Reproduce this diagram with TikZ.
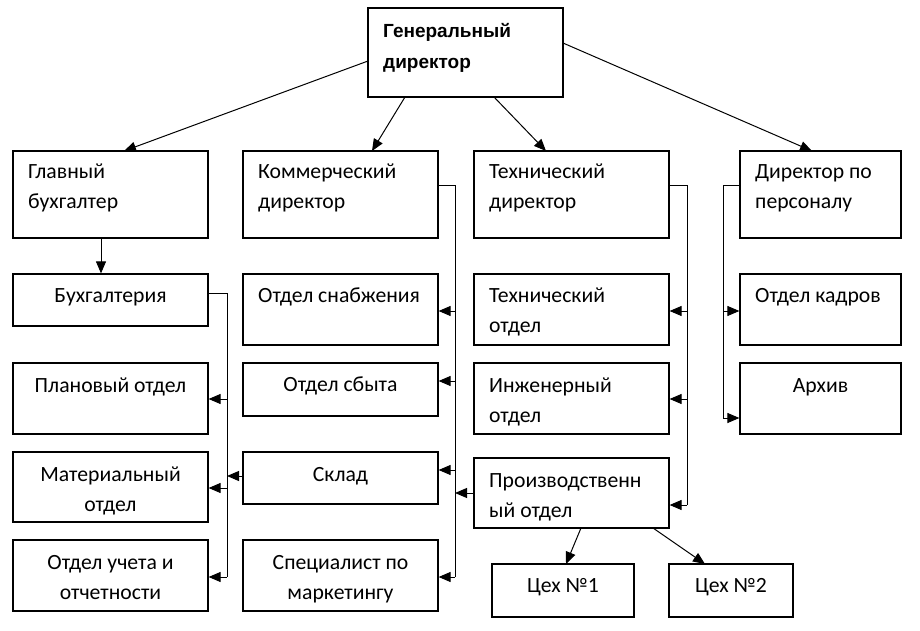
\documentclass[tikz,border=0pt]{standalone}
\usepackage{fontspec}
\setmainfont{Carlito}
\newfontfamily\gdfont{Liberation Sans}
\usetikzlibrary{fit,arrows.meta}
\tikzset{
  box/.style={draw=black, line width=1.2pt, inner sep=0pt, fill=white},
  ln/.style={draw=black, line width=1pt},
  arr/.style={ln, -{Triangle[length=12pt,width=10pt]}},
  txt/.style={inner sep=0pt, font=\fontsize{21.7}{30.5}\selectfont},
}
\newcommand\LT[3]{\node[txt, anchor=base west] at (#1,#2) {\parbox[t]{220pt}{\raggedright #3}};}
\newcommand\CT[3]{\node[txt, anchor=base] at (#1,#2) {\parbox[t]{190pt}{\centering #3}};}
\begin{document}
\begin{tikzpicture}[x=1pt,y=-1pt]
\useasboundingbox[fill=white] (0,0) rectangle (920,630);
% boxes
\node[box, fit={(368,8) (563,97)}] (gd) {};
\node[box, fit={(13,151) (208,238)}] (gb) {};
\node[box, fit={(243,151) (438,238)}] (kd) {};
\node[box, fit={(474,151) (669,238)}] (td) {};
\node[box, fit={(740,151) (901,238)}] (dp) {};
\node[box, fit={(13,274) (208,326)}] (bu) {};
\node[box, fit={(243,274) (438,345)}] (sn) {};
\node[box, fit={(474,274) (669,345)}] (to) {};
\node[box, fit={(740,274) (901,345)}] (ka) {};
\node[box, fit={(13,363) (208,434)}] (pl) {};
\node[box, fit={(243,363) (438,416)}] (sb) {};
\node[box, fit={(474,363) (669,434)}] (in) {};
\node[box, fit={(740,363) (901,434)}] (ar) {};
\node[box, fit={(13,452) (208,522)}] (ma) {};
\node[box, fit={(243,452) (438,504)}] (sk) {};
\node[box, fit={(474,458) (669,528)}] (pr) {};
\node[box, fit={(13,540) (208,611)}] (uc) {};
\node[box, fit={(243,540) (438,611)}] (sp) {};
\node[box, fit={(492,564) (634,617)}] (c1) {};
\node[box, fit={(669,564) (793,617)}] (c2) {};
% texts
\node[inner sep=0pt, anchor=base west, font=\gdfont\bfseries\fontsize{19}{31}\selectfont] at (383,37) {\parbox[t]{170pt}{\raggedright Генеральный\\директор}};
\LT{28}{178}{Главный\\бухгалтер}
\LT{258}{178}{Коммерческий\\директор}
\LT{489}{178}{Технический\\директор}
\LT{755}{178}{Директор по\\персоналу}
\CT{110.5}{302}{Бухгалтерия}
\LT{258}{302}{Отдел снабжения}
\LT{489}{302}{Технический\\отдел}
\LT{755}{302}{Отдел кадров}
\CT{110.5}{392}{Плановый отдел}
\CT{340.5}{391}{Отдел сбыта}
\LT{489}{392}{Инженерный\\отдел}
\CT{820.5}{392}{Архив}
\CT{110.5}{481}{Материальный\\отдел}
\CT{340.5}{481}{Склад}
\LT{489}{487}{Производственн\\ый отдел}
\CT{110.5}{569}{Отдел учета и\\отчетности}
\CT{340.5}{569}{Специалист по\\маркетингу}
\CT{563}{592}{Цех №1}
\CT{731}{592}{Цех №2}
% top arrows
\coordinate (g1) at (368,61);
\coordinate (g2) at (405,97);
\coordinate (g3) at (494,97);
\coordinate (g4) at (563,43);
\draw[arr] (g1) -- (124,151);
\draw[arr] (g2) -- (372,151);
\draw[arr] (g3) -- (546,151);
\draw[arr] (g4) -- (812,151);
% glavbukh -> buhgalteria
\draw[arr] (gb.south -| 101,0) -- (bu.north -| 101,0);
% left trunk
\coordinate (l0) at (227,293);
\coordinate (l1) at (227,399);
\coordinate (l2) at (227,488);
\coordinate (l3) at (227,577);
\draw[ln] (l0 -| bu.east) -- (l0) -- (l3);
\draw[arr] (l1) -- (l1 -| pl.east);
\draw[arr] (l2) -- (l2 -| ma.east);
\draw[arr] (l3) -- (l3 -| uc.east);
\coordinate (l4) at (227,476);
\draw[arr] (l4 -| sk.west) -- (l4);
% commercial trunk
\coordinate (k0) at (455,185);
\coordinate (k1) at (455,311);
\coordinate (k2) at (455,381);
\coordinate (k3) at (455,470);
\coordinate (k4) at (455,577);
\coordinate (k5) at (455,493);
\draw[ln] (k0 -| kd.east) -- (k0) -- (k4);
\draw[arr] (k1) -- (k1 -| sn.east);
\draw[arr] (k2) -- (k2 -| sb.east);
\draw[arr] (k3) -- (k3 -| sk.east);
\draw[arr] (k4) -- (k4 -| sp.east);
\draw[arr] (k5 -| pr.west) -- (k5);
% technical trunk
\coordinate (t0) at (687,185);
\coordinate (t1) at (687,311);
\coordinate (t2) at (687,399);
\coordinate (t3) at (687,505);
\draw[ln] (t0 -| td.east) -- (t0) -- (t3);
\draw[arr] (t1) -- (t1 -| to.east);
\draw[arr] (t2) -- (t2 -| in.east);
\draw[arr] (t3) -- (t3 -| pr.east);
% personnel trunk
\coordinate (p0) at (723,185);
\coordinate (p1) at (723,311);
\coordinate (p2) at (723,418);
\draw[ln] (p0 -| dp.west) -- (p0) -- (p2);
\draw[arr] (p1) -- (p1 -| ka.west);
\draw[arr] (p2) -- (p2 -| ar.west);
% production -> workshops
\coordinate (q1) at (581,528);
\coordinate (q2) at (653,528);
\draw[arr] (q1) -- (566,564);
\draw[arr] (q2) -- (705,564);
\end{tikzpicture}
\end{document}
